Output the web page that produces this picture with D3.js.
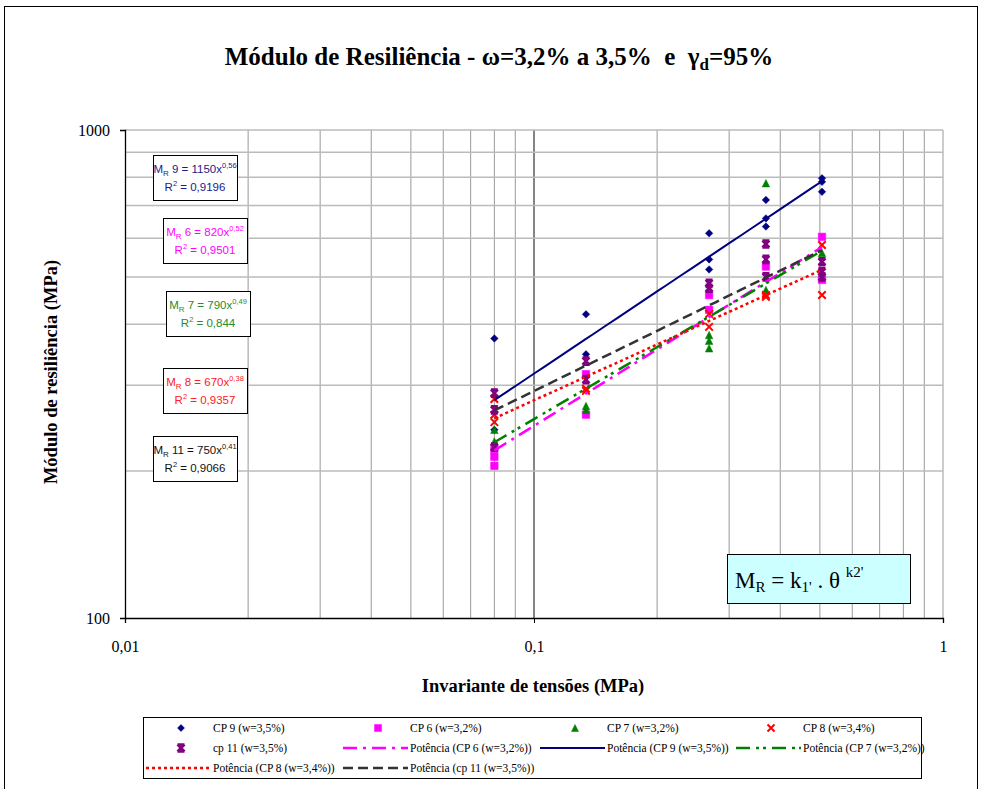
<!DOCTYPE html>
<html>
<head>
<meta charset="utf-8">
<script src="https://cdn.jsdelivr.net/npm/d3@7"></script>
<style>
  body { margin: 0; background: #fff; }
  svg text { white-space: pre; }
</style>
</head>
<body>
<svg id="chart" width="981" height="789"></svg>
<script>
// ---- data (theta in MPa, MR in MPa) ----
var xTicks = [0.01, 0.1, 1];
var xTickLabels = ["0,01", "0,1", "1"];
var yTicks = [100, 1000];
var yTickLabels = ["100", "1000"];

var cp9 = [[0.08,374],[0.08,243],[0.134,419],[0.134,347],[0.268,614],[0.268,543],[0.268,518],
           [0.369,719],[0.369,659],[0.369,634],[0.506,796],[0.506,783],[0.506,747]];
var cp6 = [[0.08,222],[0.08,214],[0.08,205],[0.134,316],[0.134,261],[0.268,459],[0.268,428],
           [0.369,525],[0.506,604],[0.506,493]];
var cp7 = [[0.08,243],[0.08,230],[0.134,272],[0.134,267],[0.268,380],[0.268,370],[0.268,357],
           [0.369,778],[0.369,470],[0.506,560]];
var cp8 = [[0.08,281],[0.08,261],[0.08,252],[0.134,295],[0.134,292],[0.268,420],[0.268,395],
           [0.369,459],[0.369,455],[0.506,581],[0.506,459]];
var cp11 = [[0.08,289],[0.08,267],[0.08,224],[0.134,336],[0.134,308],[0.268,485],[0.268,474],
            [0.369,584],[0.369,543],[0.369,500],[0.506,537],[0.506,512],[0.506,500]];

// power trend MR = k * theta^n, as printed in the boxes
var trendNames = ["9", "6", "7", "8", "11"];
var trendK = [1150, 820, 790, 670, 750];
var trendN = [0.56, 0.52, 0.49, 0.38, 0.41];
var trendR2 = ["0,9196", "0,9501", "0,844", "0,9357", "0,9066"];
var trendRange = [0.08, 0.506];

var seriesLabels = ["CP 9 (w=3,5%)", "CP 6 (w=3,2%)", "CP 7 (w=3,2%)", "CP 8 (w=3,4%)", "cp 11 (w=3,5%)"];
var trendLabels = ["Potência (CP 9 (w=3,5%))", "Potência (CP 6 (w=3,2%))", "Potência (CP 7 (w=3,2%))",
                   "Potência (CP 8 (w=3,4%))", "Potência (cp 11 (w=3,5%))"];

// ---- styles ----
var colors = ["#000080", "#ff00ff", "#008000", "#ff0000", "#800080"];
var trendColors = ["#000080", "#ff00ff", "#008000", "#ff0000", "#333333"];
var trendDash = [null, "14,6,3,6", "14,6,3,4,3,6", "3,3", "10,5"];
var boxColors = ["#1a1a8c", "#ff00ff", "#2a8a2a", "#ff2020", "#111111"];
var shapes = ["diamond", "square", "triangle", "cross", "star"];

var svg = d3.select("#chart");
var serif = "'Liberation Serif', 'Times New Roman', serif";
var sans = "'Liberation Sans', Arial, sans-serif";

// outer chart frame
svg.append("rect").attr("x", 4.5).attr("y", 6.5).attr("width", 973).attr("height", 800)
   .attr("fill", "none").attr("stroke", "#000").attr("stroke-width", 1);

var x = d3.scaleLog().domain([0.01, 1]).range([125, 943]);
var y = d3.scaleLog().domain([100, 1000]).range([618, 130]);

// ---- gridlines ----
var grid = svg.append("g");
var minorX = [];
[0.01, 0.1].forEach(function(dec){
    for (var i = 2; i <= 9; i++) minorX.push(dec * i);
});
grid.selectAll(".vx").data(minorX.concat([1])).enter().append("line")
    .attr("x1", d => x(d)).attr("x2", d => x(d))
    .attr("y1", y(1000)).attr("y2", y(100))
    .attr("stroke", "#999").attr("stroke-width", 1);
grid.append("line").attr("x1", x(0.1)).attr("x2", x(0.1)).attr("y1", y(1000)).attr("y2", y(100))
    .attr("stroke", "#333").attr("stroke-width", 1.2);
var minorY = [];
for (var j = 2; j <= 10; j++) minorY.push(100 * j);
grid.selectAll(".hy").data(minorY).enter().append("line")
    .attr("x1", x(0.01)).attr("x2", x(1))
    .attr("y1", d => y(d)).attr("y2", d => y(d))
    .attr("stroke", "#bbb").attr("stroke-width", 1.5);

// ---- axes ----
var xAxis = d3.axisBottom(x).tickValues(xTicks).tickSize(5).tickPadding(18)
    .tickFormat((d, i) => xTickLabels[i]);
var yAxis = d3.axisLeft(y).tickValues(yTicks).tickSize(5).tickPadding(10)
    .tickFormat((d, i) => yTickLabels[i]);
var gx = svg.append("g").attr("transform", "translate(0," + y(100) + ")").call(xAxis);
var gy = svg.append("g").attr("transform", "translate(" + x(0.01) + ",0)").call(yAxis);
[gx, gy].forEach(function(g){
    g.select(".domain").attr("stroke", "#000").attr("stroke-width", 1.3);
    g.selectAll("text").attr("font-family", serif).attr("font-size", 16).attr("fill", "#000");
});

// ---- markers ----
function markerPath(shape, s){
    var h = s / 2;
    if (shape == "diamond") return "M0," + (-h) + "L" + h + ",0L0," + h + "L" + (-h) + ",0Z";
    if (shape == "square") return "M" + (-h) + "," + (-h) + "h" + s + "v" + s + "h" + (-s) + "Z";
    if (shape == "triangle") return "M0," + (-h) + "L" + h + "," + h + "L" + (-h) + "," + h + "Z";
    if (shape == "cross") return "M" + (-h) + "," + (-h) + "L" + h + "," + h + "M" + h + "," + (-h) + "L" + (-h) + "," + h;
    // excel "star": X closed by top and bottom bars
    return "M" + (-h) + "," + (-h) + "L" + h + "," + h + "M" + h + "," + (-h) + "L" + (-h) + "," + h +
           "M" + (-h) + "," + (-h) + "H" + h + "M" + (-h) + "," + h + "H" + h;
}
function isStroked(shape){ return shape == "cross" || shape == "star"; }
function markerWidth(shape){ return shape == "star" ? 2.6 : (shape == "cross" ? 2 : 0.5); }

var allSeries = [cp9, cp6, cp7, cp8, cp11];
allSeries.forEach(function(pts, si){
    var sh = shapes[si];
    svg.append("g").selectAll("path").data(pts).enter().append("path")
        .attr("transform", d => "translate(" + x(d[0]) + "," + y(d[1]) + ")")
        .attr("d", markerPath(sh, sh == "star" ? 7 : 7.5))
        .attr("fill", isStroked(sh) ? "none" : colors[si])
        .attr("stroke", colors[si])
        .attr("stroke-width", markerWidth(sh));
});

// ---- power trendlines ----
var lineGen = d3.line().x(d => x(d[0])).y(d => y(d[1]));
trendK.forEach(function(k, i){
    var tLine = d3.range(0, 41).map(function(s){
        var t = Math.exp(Math.log(trendRange[0]) + (Math.log(trendRange[1]) - Math.log(trendRange[0])) * s / 40);
        return [t, k * Math.pow(t, trendN[i])];
    });
    svg.append("path").datum(tLine).attr("d", lineGen)
        .attr("fill", "none").attr("stroke", trendColors[i])
        .attr("stroke-width", i == 0 ? 2 : 2.5)
        .attr("stroke-dasharray", trendDash[i]);
});

// ---- equation boxes ----
var boxX = [153, 163, 166, 163, 153];
var boxY = [155, 218, 291, 368, 436];
trendK.forEach(function(k, i){
    var g = svg.append("g").attr("transform", "translate(" + boxX[i] + "," + boxY[i] + ")");
    g.append("rect").attr("x", 0.5).attr("y", 0.5).attr("width", 84).attr("height", 45)
        .attr("fill", "#fff").attr("stroke", "#000").attr("stroke-width", 1);
    var t1 = g.append("text").attr("x", 42).attr("y", 18).attr("text-anchor", "middle")
        .attr("font-family", sans).attr("font-size", 11.5).attr("fill", boxColors[i]);
    t1.append("tspan").text("M");
    t1.append("tspan").attr("font-size", 8).attr("dy", 3).text("R");
    t1.append("tspan").attr("dy", -3).text(" " + trendNames[i] + " = " + k + "x");
    t1.append("tspan").attr("font-size", 7.5).attr("dy", -5).text(String(trendN[i]).replace(".", ","));
    var t2 = g.append("text").attr("x", 42).attr("y", 36).attr("text-anchor", "middle")
        .attr("font-family", sans).attr("font-size", 11.5).attr("fill", boxColors[i]);
    t2.append("tspan").text("R");
    t2.append("tspan").attr("font-size", 7.5).attr("dy", -5).text("2");
    t2.append("tspan").attr("dy", 5).text(" = " + trendR2[i]);
});

// ---- model formula box ----
svg.append("rect").attr("x", 727.5).attr("y", 554.5).attr("width", 183).attr("height", 49)
    .attr("fill", "#ccffff").attr("stroke", "#000").attr("stroke-width", 1);
var f = svg.append("text").attr("x", 735).attr("y", 588).attr("font-family", serif)
    .attr("font-size", 23).attr("fill", "#000");
f.append("tspan").text("M");
f.append("tspan").attr("font-size", 15).attr("dy", 4).text("R");
f.append("tspan").attr("dy", -4).text(" = k");
f.append("tspan").attr("font-size", 15).attr("dy", 4).text("1'");
f.append("tspan").attr("dy", -4).text(" . θ ");
f.append("tspan").attr("font-size", 15).attr("dy", -11).text("k2'");

// ---- titles ----
var title = svg.append("text").attr("x", 499).attr("y", 65).attr("text-anchor", "middle")
    .attr("font-family", serif).attr("font-weight", "bold").attr("font-size", 25).attr("fill", "#000");
title.append("tspan").text("Módulo de Resiliência - ω=3,2% a 3,5%  e  γ");
title.append("tspan").attr("font-size", 17).attr("dy", 5).text("d");
title.append("tspan").attr("dy", -5).text("=95%");

svg.append("text").attr("x", 533).attr("y", 692).attr("text-anchor", "middle")
    .attr("font-family", serif).attr("font-weight", "bold").attr("font-size", 18.5)
    .text("Invariante de tensões (MPa)");
svg.append("text").attr("transform", "translate(57,372) rotate(-90)").attr("text-anchor", "middle")
    .attr("font-family", serif).attr("font-weight", "bold").attr("font-size", 18.5)
    .text("Módulo de resiliência (MPa)");

// ---- legend ----
svg.append("rect").attr("x", 143.5).attr("y", 717.5).attr("width", 778).attr("height", 61)
    .attr("fill", "#fff").attr("stroke", "#000").attr("stroke-width", 1);
var trendOrder = [1, 0, 2, 3, 4]; // excel lists the CP 6 trend first
var legendItems = [];
seriesLabels.forEach(function(l, i){ legendItems.push({kind: "pt", i: i, label: l}); });
trendOrder.forEach(function(i){ legendItems.push({kind: "ln", i: i, label: trendLabels[i]}); });
var colX = [213, 410, 607, 803];
var rowY = [728, 748, 768];
legendItems.forEach(function(it, n){
    var tx = colX[n % 4], ty = rowY[Math.floor(n / 4)];
    var g = svg.append("g");
    if (it.kind == "pt"){
        var sh = shapes[it.i];
        g.append("path").attr("transform", "translate(" + (tx - 32) + "," + ty + ")")
            .attr("d", markerPath(sh, 7))
            .attr("fill", isStroked(sh) ? "none" : colors[it.i])
            .attr("stroke", colors[it.i]).attr("stroke-width", markerWidth(sh));
    } else {
        g.append("line").attr("x1", tx - 67).attr("x2", tx - 2).attr("y1", ty).attr("y2", ty)
            .attr("stroke", trendColors[it.i]).attr("stroke-width", it.i == 0 ? 2 : 2.5)
            .attr("stroke-dasharray", trendDash[it.i]);
    }
    g.append("text").attr("x", tx).attr("y", ty + 4).attr("font-family", serif)
        .attr("font-size", 11.5).attr("fill", "#000").text(it.label);
});
</script>
</body>
</html>
